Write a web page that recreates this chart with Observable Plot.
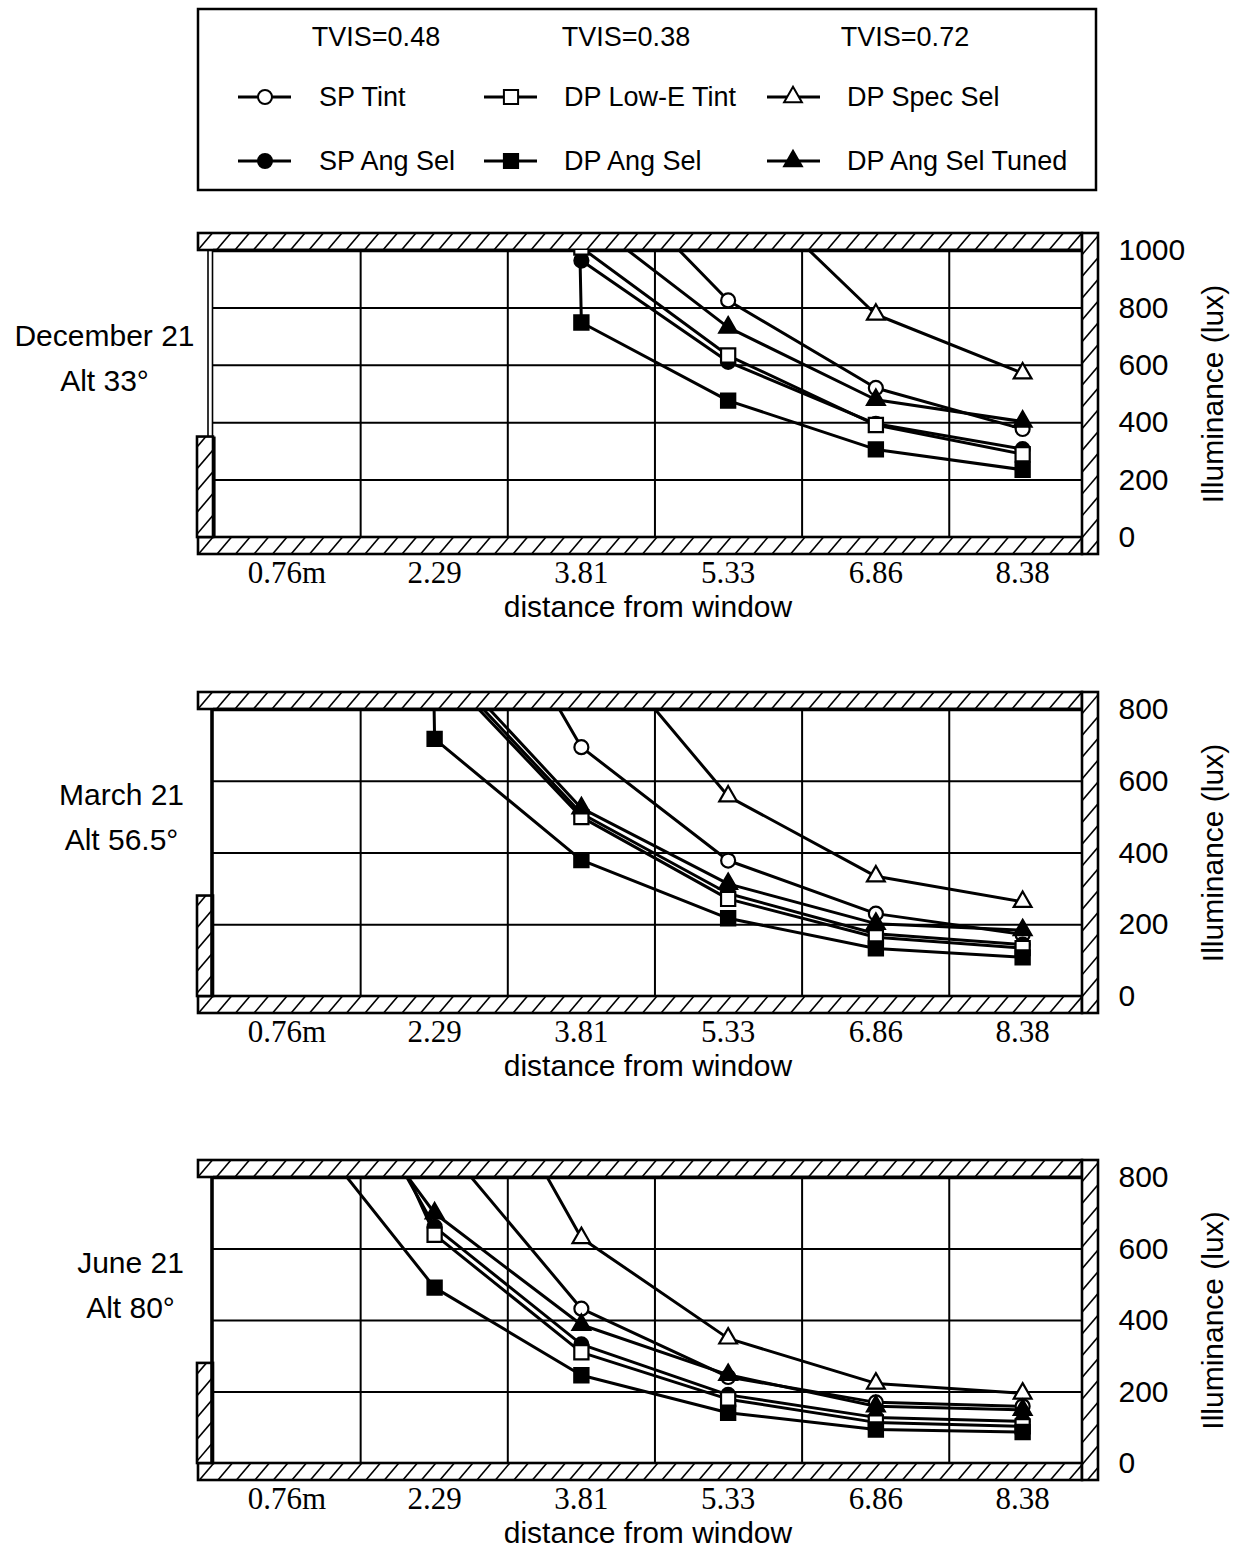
<!DOCTYPE html>
<html><head><meta charset="utf-8">
<script src="https://cdn.jsdelivr.net/npm/d3@7"></script>
<script src="https://cdn.jsdelivr.net/npm/@observablehq/plot@0.6"></script>
<style>
html,body{margin:0;padding:0;background:#fff;overflow:hidden;}
#root{position:relative;width:1236px;height:1549px;background:#fff;}
#root svg{position:absolute;left:0;overflow:visible;}
</style></head><body><div id="root"></div>
<script>
// ---------- data ----------
const distances = [0.76, 2.29, 3.81, 5.33, 6.86, 8.38];
const distanceLabels = ["0.76m", "2.29", "3.81", "5.33", "6.86", "8.38"];
const gridDistances = [1.524, 3.048, 4.572, 6.096, 7.62];
const roomDepth = 9.0;

const seriesNames = ["SP Tint", "SP Ang Sel", "DP Low-E Tint", "DP Ang Sel", "DP Spec Sel", "DP Ang Sel Tuned"];
const seriesSymbols = ["circle", "circle", "square", "square", "triangle", "triangle"];
const seriesFilled = [false, true, false, true, false, true];
const tvisLabels = ["TVIS=0.48", "TVIS=0.38", "TVIS=0.72"];

const panelDates = ["December 21", "March 21", "June 21"];
const panelAltitudes = ["Alt 33°", "Alt 56.5°", "Alt 80°"];
const yTicksDec = [0, 200, 400, 600, 800, 1000];
const yTicksMar = [0, 200, 400, 600, 800];
const yTicksJun = [0, 200, 400, 600, 800];

// illuminance (lux) per series, in seriesNames order, at the six distances (null = not visible)
const dec21 = [
  [null, null, 1350, 826, 521, 378],   // SP Tint
  [null, null, 965, 612, 396, 308],    // SP Ang Sel
  [null, null, 1010, 634, 392, 290],   // DP Low-E Tint
  [null, 25000, 749, 477, 307, 236],   // DP Ang Sel
  [null, null, null, 1272, 777, 572],  // DP Spec Sel
  [null, null, 1125, 732, 480, 404]    // DP Ang Sel Tuned
];
const mar21 = [
  [null, 1400, 695, 379, 231, 173],
  [null, 945, 510, 287, 175, 145],
  [null, 930, 500, 272, 165, 135],
  [25000, 718, 380, 218, 134, 109],
  [null, null, 1045, 558, 335, 264],
  [null, 965, 525, 314, 203, 185]
];
const jun21 = [
  [null, 923, 433, 242, 171, 160],
  [1400, 662, 333, 192, 129, 118],
  [1550, 640, 311, 180, 115, 104],
  [1012, 492, 247, 142, 95, 88],
  [null, 1360, 631, 350, 224, 196],
  [1260, 700, 388, 248, 160, 150]
];

// ---------- layout ----------
const W = 1236, ML = 213, MR = 154, MT = 50, SVGH = 420;
const panelTops = [200, 659, 1127];
const frameHeights = [287, 287, 286];
const labelCenters = [104, 121, 130];
const symbolR = {circle: 7, square: 8, triangle: 6.6};
const SANS = "Liberation Sans, Arial, Helvetica, sans-serif";
const SERIF = "Liberation Serif, Times New Roman, serif";

const root = document.getElementById("root");

function room(pi, doubleWindow) {
  return () => {
    const L = ML, R = W - MR, T = MT, B = MT + frameHeights[pi];
    const g = d3.create("svg:g");
    const bandH = 17, wallW = 16;
    const sillTop = B - (B - T) * 0.35;
    const rects = [
      [L - 15, T - bandH, R, T],
      [L - 15, B, R, B + bandH],
      [R, T - bandH, R + wallW, B + bandH],
      [L - 16, sillTop, L, B]
    ];
    const k = 0.85, step = 18.5;
    rects.forEach((r, i) => {
      const [x0, y0, x1, y1] = r;
      const id = `hatch-${pi}-${i}`;
      g.append("clipPath").attr("id", id).append("rect")
        .attr("x", x0).attr("y", y0).attr("width", x1 - x0).attr("height", y1 - y0);
      const h = g.append("g").attr("clip-path", `url(#${id})`);
      h.append("rect").attr("x", x0).attr("y", y0).attr("width", x1 - x0).attr("height", y1 - y0).attr("fill", "white");
      const cmin = x0 + k * y0, cmax = x1 + k * y1;
      for (let c = Math.ceil(cmin / step) * step; c <= cmax + step; c += step) {
        h.append("line")
          .attr("x1", c - k * y1).attr("y1", y1)
          .attr("x2", c - k * y0).attr("y2", y0)
          .attr("stroke", "black").attr("stroke-width", 1.6);
      }
      g.append("rect").attr("x", x0).attr("y", y0).attr("width", x1 - x0).attr("height", y1 - y0)
        .attr("fill", "none").attr("stroke", "black").attr("stroke-width", 2.6);
    });
    g.append("line").attr("x1", L).attr("x2", R).attr("y1", T + 0.5).attr("y2", T + 0.5)
      .attr("stroke", "black").attr("stroke-width", 3.5);
    if (doubleWindow) {
      [L - 5, L - 0.5].forEach(x => g.append("line").attr("x1", x).attr("x2", x)
        .attr("y1", T).attr("y2", sillTop).attr("stroke", "black").attr("stroke-width", 1.6));
      g.append("line").attr("x1", L + 1).attr("x2", L + 1).attr("y1", sillTop).attr("y2", B)
        .attr("stroke", "black").attr("stroke-width", 3.2);
    } else {
      g.append("line").attr("x1", L - 1).attr("x2", L - 1).attr("y1", T).attr("y2", B)
        .attr("stroke", "black").attr("stroke-width", 3.6);
    }
    return g.node();
  };
}

function panel(pi, values, yTicks) {
  const yMax = yTicks[yTicks.length - 1];
  const rows = [];
  seriesNames.forEach((s, j) => values[j].forEach((v, k) => rows.push({series: s, d: distances[k], v})));
  const fh = frameHeights[pi];
  const marks = [
    Plot.ruleX(gridDistances, {stroke: "black", strokeWidth: 2}),
    Plot.ruleY(yTicks, {stroke: "black", strokeWidth: 2}),
    room(pi, pi === 0),
    Plot.line(rows, {x: "d", y: "v", z: "series", stroke: "black", strokeWidth: 3, clip: true}),
    ...seriesNames.map((s, j) => Plot.dot(rows.filter(r => r.series === s && r.v != null), {
      x: "d", y: "v", symbol: seriesSymbols[j], r: symbolR[seriesSymbols[j]],
      fill: seriesFilled[j] ? "black" : "white", stroke: "black", strokeWidth: 2.2, clip: true
    })),
    Plot.text(distanceLabels, {x: (d, k) => distances[k], text: d => d, frameAnchor: "bottom", dy: 36,
      lineAnchor: "middle", fontFamily: SERIF, fontSize: 31, fill: "black"}),
    Plot.text(yTicks, {y: d => d, text: d => String(d), frameAnchor: "right", dx: 36, textAnchor: "start",
      lineAnchor: "middle", fontFamily: SANS, fontSize: 30, fill: "black"}),
    Plot.text(["Illuminance (lux)"], {text: d => d, frameAnchor: "right", dx: 131, rotate: -90,
      textAnchor: "middle", lineAnchor: "middle", fontFamily: SANS, fontSize: 30, fill: "black"}),
    Plot.text(["distance from window"], {text: d => d, frameAnchor: "bottom", dy: 70,
      lineAnchor: "middle", fontFamily: SANS, fontSize: 30, fill: "black"}),
    Plot.text([panelDates[pi]], {text: d => d, frameAnchor: "top-left", dx: labelCenters[pi] - ML, dy: 86,
      textAnchor: "middle", lineAnchor: "middle", fontFamily: SANS, fontSize: 30, fill: "black"}),
    Plot.text([panelAltitudes[pi]], {text: d => d, frameAnchor: "top-left", dx: labelCenters[pi] - ML, dy: 131,
      textAnchor: "middle", lineAnchor: "middle", fontFamily: SANS, fontSize: 30, fill: "black"})
  ];
  const svg = Plot.plot({
    width: W, height: SVGH,
    marginLeft: ML, marginRight: MR, marginTop: MT, marginBottom: SVGH - MT - fh,
    x: {domain: [0, roomDepth], axis: null},
    y: {domain: [0, yMax], axis: null},
    style: {background: "transparent", fontFamily: SANS, overflow: "visible", color: "black"},
    marks
  });
  svg.style.top = panelTops[pi] + "px";
  root.appendChild(svg);
}

panel(0, dec21, yTicksDec);
panel(1, mar21, yTicksMar);
panel(2, jun21, yTicksJun);

// ---------- legend ----------
const leg = d3.select(root).append("svg").attr("width", W).attr("height", 200).style("top", "0px");
leg.append("rect").attr("x", 198).attr("y", 9).attr("width", 898).attr("height", 181)
  .attr("fill", "white").attr("stroke", "black").attr("stroke-width", 2.5);
const colLine = [238, 484, 767], colSym = [265, 511, 793], colText = [319, 564, 847], colTvis = [376, 626, 905];
const rowY = [97, 161];
const symType = {circle: d3.symbolCircle, square: d3.symbolSquare, triangle: d3.symbolTriangle};
tvisLabels.forEach((t, c) => leg.append("text").attr("x", colTvis[c]).attr("y", 37).attr("dy", "0.35em")
  .attr("text-anchor", "middle").attr("font-family", SANS).attr("font-size", 27).text(t));
seriesNames.forEach((s, j) => {
  const c = Math.floor(j / 2), r = j % 2;
  const y = rowY[r];
  leg.append("line").attr("x1", colLine[c]).attr("x2", colLine[c] + 53).attr("y1", y).attr("y2", y)
    .attr("stroke", "black").attr("stroke-width", 2.8);
  const rr = symbolR[seriesSymbols[j]];
  leg.append("path").attr("d", d3.symbol(symType[seriesSymbols[j]], Math.PI * rr * rr)())
    .attr("transform", `translate(${colSym[c]},${y})`)
    .attr("fill", seriesFilled[j] ? "black" : "white").attr("stroke", "black").attr("stroke-width", 2);
  leg.append("text").attr("x", colText[c]).attr("y", y).attr("dy", "0.35em")
    .attr("font-family", SANS).attr("font-size", 27).text(s);
});
</script>
</body></html>
